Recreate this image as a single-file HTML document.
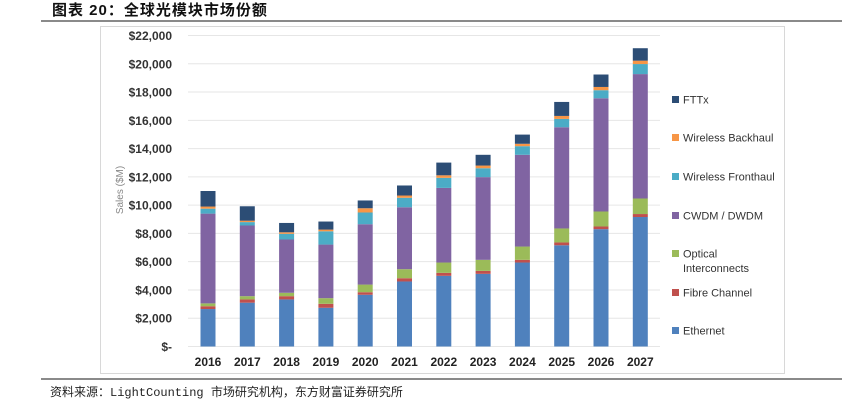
<!DOCTYPE html>
<html><head><meta charset="utf-8"><style>
body{margin:0;width:864px;height:401px;background:#fff;overflow:hidden;font-family:"Liberation Sans","Noto Sans CJK SC",sans-serif}
</style></head><body>
<svg width="864" height="401" xmlns="http://www.w3.org/2000/svg">
<text x="52" y="15" font-size="15" font-weight="bold" fill="#111" font-family="Liberation Sans, Noto Sans CJK SC, sans-serif" letter-spacing="1">图表 20：全球光模块市场份额</text>
<line x1="41" y1="21" x2="842" y2="21" stroke="#444" stroke-width="1.2"/>
<rect x="100.5" y="26.5" width="684" height="347" fill="none" stroke="#d8d8d8"/>
<g id="grid"></g>
<g id="ylabels"></g>
<text transform="translate(123,190) rotate(-90)" text-anchor="middle" font-size="10" fill="#888">Sales ($M)</text>
<g id="bars"></g>
<g id="xlabels"></g>
<g id="legend"></g>
<line x1="41" y1="379" x2="842" y2="379" stroke="#444" stroke-width="1.2"/>
<text x="50" y="396" font-size="12" fill="#222" font-family="Liberation Mono, Noto Sans CJK SC, monospace">资料来源：LightCounting 市场研究机构，东方财富证券研究所</text>
</svg>
<script>
const years=["2016","2017","2018","2019","2020","2021","2022","2023","2024","2025","2026","2027"];
const ethernet=[2.65,3.1,3.33,2.74,3.66,4.6,5.0,5.14,5.94,7.16,8.3,9.16];
const fibreChannel=[0.2,0.23,0.23,0.28,0.18,0.23,0.21,0.21,0.19,0.2,0.19,0.21];
const opticalInterconnects=[0.2,0.23,0.24,0.4,0.54,0.64,0.73,0.78,0.94,0.99,1.06,1.1];
const cwdmDwdm=[6.35,5.0,3.77,3.79,4.27,4.38,5.28,5.85,6.49,7.16,8.01,8.8];
const wirelessFronthaul=[0.35,0.24,0.4,0.94,0.83,0.67,0.71,0.63,0.61,0.59,0.57,0.71];
const wirelessBackhaul=[0.15,0.1,0.11,0.12,0.3,0.16,0.18,0.19,0.17,0.21,0.23,0.24];
const fttx=[1.1,1.02,0.66,0.57,0.55,0.71,0.9,0.76,0.65,0.99,0.88,0.88];
const yTicks=[0,2,4,6,8,10,12,14,16,18,20,22];
const yTickLabels=["$-","$2,000","$4,000","$6,000","$8,000","$10,000","$12,000","$14,000","$16,000","$18,000","$20,000","$22,000"];
const seriesNames=["Ethernet","Fibre Channel","Optical Interconnects","CWDM / DWDM","Wireless Fronthaul","Wireless Backhaul","FTTx"];
const series=[ethernet,fibreChannel,opticalInterconnects,cwdmDwdm,wirelessFronthaul,wirelessBackhaul,fttx];
const colors=["#4f81bd","#c0504d","#9bbb59","#8064a2","#4bacc6","#f79646","#2c4d75"];
const NS="http://www.w3.org/2000/svg";
const y0=346.5,pxPer=311/22,x0=208,dx=39.3,bw=15;
const Y=v=>y0-v*pxPer, X=i=>x0+i*dx;
function mk(t,a,p){const e=document.createElementNS(NS,t);for(const k in a)e.setAttribute(k,a[k]);p.appendChild(e);return e;}
const grid=document.getElementById('grid'),yl=document.getElementById('ylabels'),bars=document.getElementById('bars'),xl=document.getElementById('xlabels'),lg=document.getElementById('legend');
yTicks.forEach((t,i)=>{
  const l=mk('line',{x1:188,x2:660,y1:Y(t),y2:Y(t),stroke:'#e6e6e6','stroke-width':1},grid);
  
  
  const tx=mk('text',{x:172,y:Y(t)+4.5,'text-anchor':'end','font-size':12,'font-weight':'bold',fill:'#333'},yl);
  tx.textContent=yTickLabels[i];
  
  
});
years.forEach((yr,i)=>{
  let cum=0;
  series.forEach((s,k)=>{
    const r=mk('rect',{x:X(i)-bw/2,y:Y(cum+s[i]),width:bw,height:s[i]*pxPer,fill:colors[k]},bars);
    
    
    cum+=s[i];
  });
  const tx=mk('text',{x:X(i),y:366,'text-anchor':'middle','font-size':12,'font-weight':'bold',fill:'#222'},xl);
  tx.textContent=yr;
  
  
});
const legY=[331,293,254,216,177,138,100];
seriesNames.forEach((n,k)=>{
  const g=mk('g',{},lg);
  
  
  mk('rect',{x:672,y:legY[k]-4,width:7,height:7,fill:colors[k]},g);
  if(n==="Optical Interconnects"){
    const t1=mk('text',{x:683,y:legY[k]+3.5,'font-size':11,fill:'#333'},g);t1.textContent="Optical";
    const t2=mk('text',{x:683,y:legY[k]+18,'font-size':11,fill:'#333'},g);t2.textContent="Interconnects";
  } else {
    const t=mk('text',{x:683,y:legY[k]+3.5,'font-size':11,fill:'#333'},g);t.textContent=n;
  }
});
</script>
</body></html>
